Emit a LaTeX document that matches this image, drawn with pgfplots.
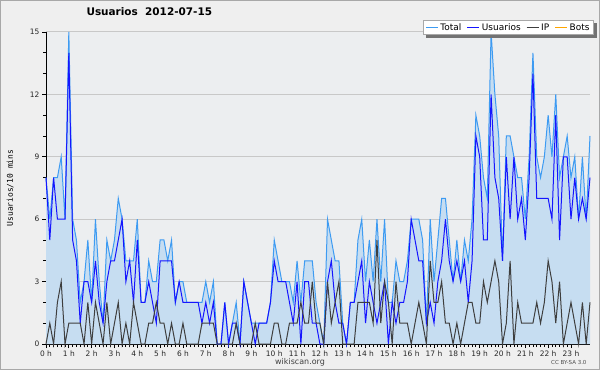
\documentclass[border=0pt]{standalone}
\usepackage{pgfplots}
\pgfplotsset{compat=1.18}
\usepackage{pgfplotstable}
\usepackage{fontspec}
\setmainfont{DejaVu Sans}
\setmonofont{DejaVu Sans Mono}
\usetikzlibrary{calc,backgrounds}
\definecolor{outerbg}{HTML}{EFEFEF}
\definecolor{plotbg}{HTML}{ECEEF0}
\definecolor{framegray}{HTML}{A8A8A8}
\definecolor{gridgray}{HTML}{C8C8C8}
\definecolor{fillblue}{HTML}{C6DDF1}
\definecolor{totalblue}{HTML}{3D9BF2}
\definecolor{userblue}{HTML}{1515FF}
\definecolor{ipgray}{HTML}{3E3E3E}
\definecolor{botorange}{HTML}{FFA500}
\pgfplotstableread{
i T U IP
0 8 8 0
1 6 5 1
2 8 8 0
3 8 6 2
4 9 6 3
5 6 6 0
6 15 14 1
7 6 5 1
8 5 4 1
9 2 1 1
10 3 3 0
11 5 3 2
12 2 2 0
13 6 4 2
14 3 2 1
15 1 1 0
16 5 3 2
17 4 4 0
18 5 4 1
19 7 5 2
20 6 6 0
21 4 3 1
22 4 4 0
23 4 2 2
24 6 5 1
25 2 2 0
26 2 2 0
27 4 3 1
28 3 2 1
29 3 1 2
30 5 4 1
31 5 4 1
32 4 4 0
33 5 4 1
34 2 2 0
35 3 3 0
36 3 2 1
37 2 2 0
38 2 2 0
39 2 2 0
40 2 2 0
41 2 1 1
42 3 2 1
43 2 1 1
44 3 2 1
45 0 0 0
46 0 0 0
47 2 2 0
48 0 0 0
49 1 1 0
50 2 1 1
51 0 0 0
52 3 3 0
53 2 2 0
54 1 1 0
55 1 0 1
56 1 1 0
57 1 1 0
58 1 1 0
59 2 2 0
60 5 4 1
61 4 3 1
62 3 3 0
63 3 3 0
64 3 2 1
65 2 1 1
66 4 3 1
67 2 0 2
68 4 3 1
69 4 3 1
70 4 1 3
71 2 1 1
72 1 0 1
73 0 0 0
74 6 3 3
75 5 4 1
76 4 2 2
77 4 1 3
78 1 1 0
79 0 0 0
80 2 2 0
81 2 2 0
82 5 3 2
83 6 4 2
84 3 1 2
85 5 3 2
86 3 2 1
87 6 1 5
88 3 2 1
89 6 3 3
90 2 0 2
91 2 2 0
92 4 1 3
93 3 2 1
94 3 2 1
95 4 3 1
96 6 6 0
97 6 5 1
98 6 4 2
99 5 4 1
100 1 1 0
101 6 2 4
102 3 1 2
103 5 3 2
104 7 4 3
105 7 6 1
106 5 4 1
107 3 3 0
108 5 4 1
109 3 3 0
110 5 4 1
111 4 2 2
112 6 4 2
113 11 10 1
114 10 9 1
115 8 5 3
116 7 5 2
117 15 12 3
118 12 8 4
119 10 7 3
120 4 4 0
121 10 9 1
122 10 6 4
123 9 9 0
124 8 6 2
125 8 7 1
126 6 5 1
127 9 8 1
128 14 13 1
129 9 7 2
130 8 7 1
131 9 7 2
132 11 7 4
133 9 6 3
134 12 11 1
135 8 5 3
136 9 9 0
137 10 9 1
138 8 6 2
139 9 8 1
140 6 6 0
141 9 7 2
142 6 6 0
143 10 8 2
}\data
\begin{document}
\begin{tikzpicture}
\begin{axis}[
  scale only axis,
  width=544bp, height=312bp,
  xmin=0, xmax=143, ymin=0, ymax=15,
  clip=false,
  axis lines=left,
  axis line style={-, black, line width=1bp},
  axis background/.style={fill=plotbg},
  ytick={0,3,6,9,12,15},
  minor ytick={1,2,4,5,7,8,10,11,13,14},
  xtick={0,6,...,138},
  xticklabels={0 h,1 h,2 h,3 h,4 h,5 h,6 h,7 h,8 h,9 h,10 h,11 h,12 h,13 h,14 h,15 h,16 h,17 h,18 h,19 h,20 h,21 h,22 h,23 h},
  minor x tick num=5,
  tick align=outside,
  major tick length=4bp,
  minor tick length=3bp,
  every tick/.style={black, line width=0.8bp},
  ymajorgrids,
  major grid style={gridgray, line width=1bp},
  /pgf/number format/assume math mode=true,
  tick label style={font=\fontsize{7.5}{8}\selectfont, text=black!85},
  xticklabel style={yshift=1bp},
  yticklabel style={xshift=1bp},
  ylabel={\ttfamily Usuarios/10 mins},
  ylabel style={at={(axis description cs:-0.066,0.5)}, anchor=center, font=\fontsize{8}{9}\selectfont},
  xlabel={wikiscan.org},
  xlabel style={at={(axis description cs:0.467,0)}, anchor=center, yshift=-18bp, font=\fontsize{8}{9}\selectfont, text=black!75},
  title={\textbf{Usuarios\ \ 2012-07-15}},
  title style={at={(axis description cs:0,1)}, anchor=west, xshift=37bp, yshift=14bp, font=\fontsize{10.5}{12}\selectfont},
  legend columns=4,
  legend style={at={(axis description cs:1,1)}, anchor=north east, xshift=4bp, yshift=12bp,
    font=\fontsize{9}{10}\selectfont, draw=framegray, line width=1bp, fill=white,
    inner xsep=2bp, inner ysep=1bp,
    /tikz/every even column/.append style={column sep=3.5bp}},
]
\coordinate (ll) at (rel axis cs:0,0);
\coordinate (ur) at (rel axis cs:1,1);
\addplot[draw=none, fill=fillblue, forget plot] table[x=i, y=T] {\data} \closedcycle;
\addplot[draw=totalblue, line width=1bp,
  legend image code/.code={\draw[draw=totalblue, line width=1bp] (0bp,0bp) -- (12bp,0bp);}]
  table[x=i, y=T] {\data};
\addlegendentry{Total}
\addplot[draw=userblue, line width=1bp,
  legend image code/.code={\draw[draw=userblue, line width=1bp] (0bp,0bp) -- (12bp,0bp);}]
  table[x=i, y=U] {\data};
\addlegendentry{Usuarios}
\addplot[draw=ipgray, line width=1bp,
  legend image code/.code={\draw[draw=ipgray, line width=1bp] (0bp,0bp) -- (12bp,0bp);}]
  table[x=i, y=IP] {\data};
\addlegendentry{IP}
\addlegendimage{legend image code/.code={\draw[draw=botorange, line width=1bp] (0bp,0bp) -- (12bp,0bp);}}
\addlegendentry{Bots}
\fill[black!55] (axis description cs:0.6985,0.9904) rectangle (axis description cs:1.0129,0.9808);
\fill[black!55] (axis description cs:1.0074,1.0288) rectangle (axis description cs:1.0129,0.9808);
\node[anchor=east, font=\fontsize{5.5}{6}\selectfont, text=black!70] at (axis description cs:1,0) [yshift=-19bp] {CC BY-SA 3.0};
\end{axis}
\begin{scope}[on background layer]
\fill[outerbg] ($(ll)+(-46bp,-26bp)$) rectangle ($(ur)+(10bp,32bp)$);
\draw[framegray, line width=1.5bp] ($(ll)+(-45.25bp,-25.25bp)$) rectangle ($(ur)+(9.25bp,31.25bp)$);
\end{scope}
\pgfresetboundingbox
\path[use as bounding box] ($(ll)+(-46bp,-26bp)$) rectangle ($(ur)+(10bp,32bp)$);
\end{tikzpicture}
\end{document}
